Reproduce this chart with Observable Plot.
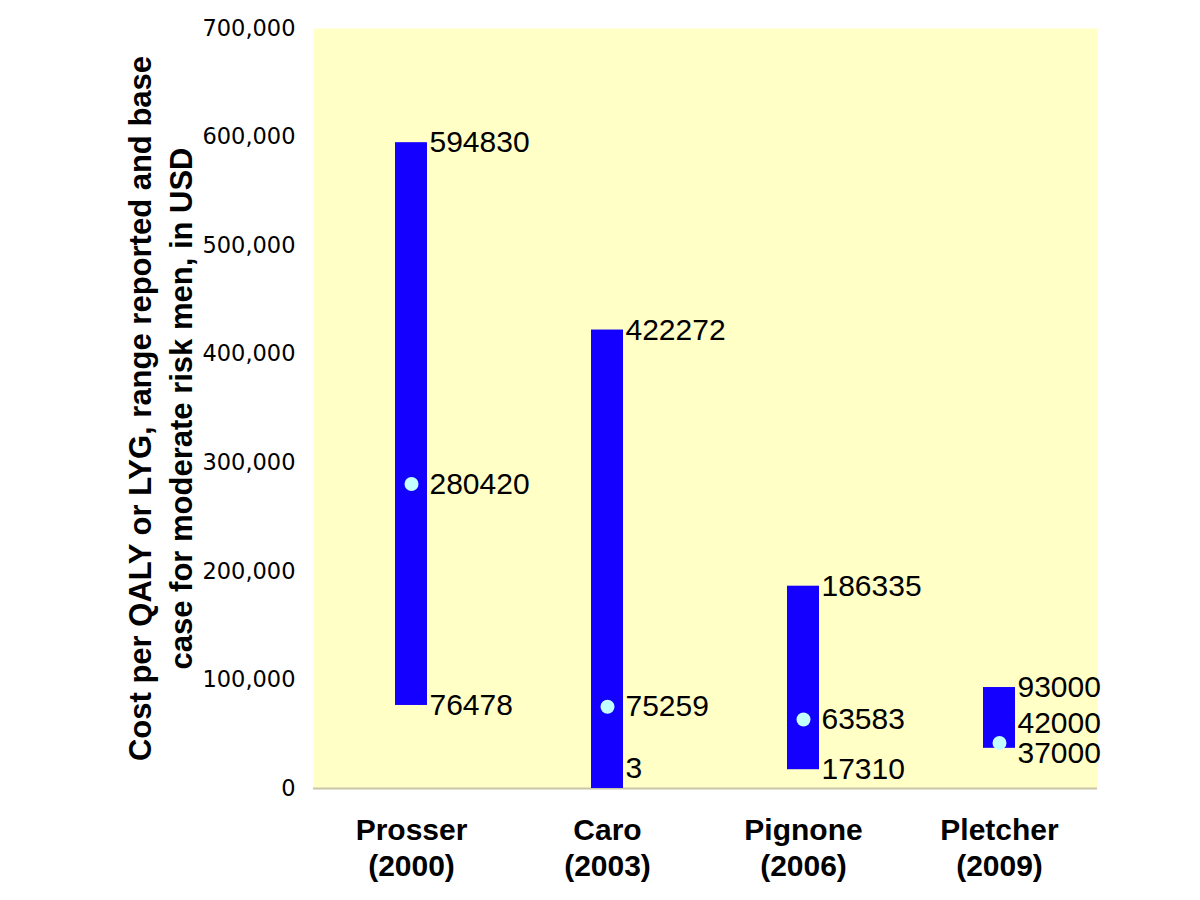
<!DOCTYPE html>
<html><head><meta charset="utf-8">
<script src="https://cdn.jsdelivr.net/npm/d3@7"></script>
<script src="https://cdn.jsdelivr.net/npm/@observablehq/plot@0.6"></script>
<style>body{margin:0;background:#fff}</style>
</head><body><div id="chart"></div>
<script>
const studies = ["Prosser\n(2000)", "Caro\n(2003)", "Pignone\n(2006)", "Pletcher\n(2009)"];
const lows = [76478, 3, 17310, 37000];
const highs = [594830, 422272, 186335, 93000];
const bases = [280420, 75259, 63583, 42000];
const yTicks = [0, 100000, 200000, 300000, 400000, 500000, 600000, 700000];

const W = 1200, H = 900, ML = 313, MR = 103, MT = 28, MB = 112;

const rows = studies.map((s, i) => ({study: s, low: lows[i], high: highs[i], base: bases[i]}));
const labels = [];
rows.forEach(r => {
  labels.push({study: r.study, v: r.high, kind: "high"});
  labels.push({study: r.study, v: r.base, kind: "base"});
  labels.push({study: r.study, v: r.low, kind: "low"});
});
// small label nudges to avoid overlaps (style only)
function nudge(d) {
  if (d.kind === "low" && d.v < 10) return -20;
  if (d.study.startsWith("Pletcher") && d.kind === "base") return -20;
  if (d.study.startsWith("Pletcher") && d.kind === "low") return 5;
  return 0;
}
const lblStyle = {fontSize: 30, fontFamily: "Liberation Sans, Arial, sans-serif", fill: "#000", textAnchor: "start"};
const labelMarks = [0, -20, 5].map(n =>
  Plot.text(labels.filter(d => nudge(d) === n), {x: "study", y: "v", text: d => String(d.v), dx: 18, dy: n, ...lblStyle})
);

const plot = Plot.plot({
  width: W, height: H,
  marginLeft: ML, marginRight: MR, marginTop: MT, marginBottom: MB,
  style: {background: "#fff", overflow: "visible"},
  x: {type: "band", domain: studies, paddingInner: 0.837, paddingOuter: 0.4185, label: null},
  y: {domain: [0, 700000], label: null},
  marks: [
    Plot.frame({fill: "#FFFFC6", stroke: null}),
    Plot.ruleY([0], {stroke: "#c9c6a6", strokeWidth: 2}),
    Plot.ruleX([0], {dx: -(W - ML - MR) / 2, stroke: "#d6d3b4", strokeWidth: 2}),
    Plot.axisY({ticks: yTicks, tickSize: 0, tickPadding: 18, tickFormat: d3.format(","), fontSize: 22.5, fontFamily: "DejaVu Sans, sans-serif", fill: "#000", label: null}),
    Plot.axisX({tickSize: 0, tickPadding: 25, fontSize: 30, fontWeight: "bold", fontFamily: "Liberation Sans, Arial, sans-serif", fill: "#000", lineHeight: 1.22, label: null}),
    Plot.barY(rows, {x: "study", y1: "low", y2: "high", fill: "#1400FF"}),
    Plot.dot(rows, {x: "study", y: "base", r: 7, fill: "#C4FFFF", stroke: null}),
    ...labelMarks,
    Plot.text(["Cost per QALY or LYG, range reported and base\ncase for moderate risk men, in USD"], {
      frameAnchor: "left", dx: -155, rotate: -90, textAnchor: "middle", lineHeight: 1.3,
      fontSize: 31, fontWeight: "bold", fontFamily: "'Liberation Sans Narrow', 'Liberation Sans', sans-serif", fill: "#000"
    })
  ]
});
document.getElementById("chart").appendChild(plot);
</script>
</body></html>
